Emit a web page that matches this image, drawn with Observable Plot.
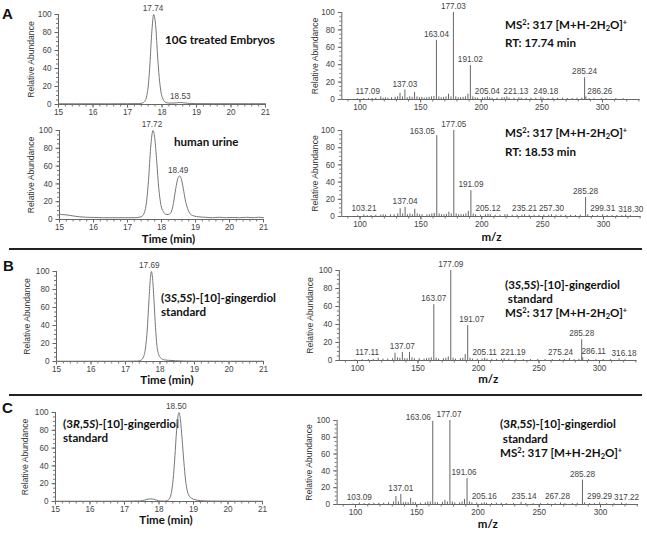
<!DOCTYPE html>
<html><head><meta charset="utf-8">
<script src="https://cdn.jsdelivr.net/npm/d3@7"></script>
<script src="https://cdn.jsdelivr.net/npm/@observablehq/plot@0.6"></script>
<style>
html,body{margin:0;padding:0;background:#fff}
#fig{position:relative;width:647px;height:536px;overflow:hidden;background:#fff}
#fig svg{position:absolute}
.ann{position:absolute;font-family:Lato,"Open Sans",sans-serif;font-weight:bold;font-size:11.6px;color:#111;white-space:nowrap;line-height:14px}
.ann .sp{font-size:7.5px;position:relative;top:-4px}
.ann .sb{font-size:7.5px;position:relative;top:2px}
.letter{position:absolute;font-family:"Liberation Sans",Arial,sans-serif;font-weight:bold;font-size:15px;color:#111;line-height:15px}
.sep{position:absolute;left:9px;width:633px;height:2px;background:#222}
</style>
</head><body>
<div id="fig">
  <div class="letter" style="left:2px;top:6px">A</div>
  <div class="letter" style="left:3px;top:258px">B</div>
  <div class="letter" style="left:2px;top:400px">C</div>
  <div class="sep" style="top:248px"></div>
  <div class="sep" style="top:394px"></div>
  <div class="ann" style="left:165px;top:33px">10G treated Embryos</div>
  <div class="ann" style="left:174px;top:135px">human urine</div>
  <div class="ann" style="left:161px;top:291px">(3<i>S</i>,5<i>S</i>)-[10]-gingerdiol<br>standard</div>
  <div class="ann" style="left:63px;top:417px">(3<i>R</i>,5<i>S</i>)-[10]-gingerdiol<br>standard</div>
  <div class="ann" style="left:505px;top:17px;line-height:16px">MS<span class="sp">2</span>: 317 [M+H-2H<span class="sb">2</span>O]<span class="sp">+</span><br>RT: 17.74 min</div>
  <div class="ann" style="left:505px;top:124px;line-height:17px">MS<span class="sp">2</span>: 317 [M+H-2H<span class="sb">2</span>O]<span class="sp">+</span><br>RT: 18.53 min</div>
  <div class="ann" style="left:505px;top:278px">(3<i>S</i>,5<i>S</i>)-[10]-gingerdiol<br>&nbsp;standard<br>MS<span class="sp">2</span>: 317 [M+H-2H<span class="sb">2</span>O]<span class="sp">+</span></div>
  <div class="ann" style="left:500px;top:417px;line-height:14.5px">(3<i>R</i>,5<i>S</i>)-[10]-gingerdiol<br>&nbsp;standard<br>MS<span class="sp">2</span>: 317 [M+H-2H<span class="sb">2</span>O]<span class="sp">+</span></div>
</div>
<script>
// ---------- DATA ----------
// Chromatograms: [time (min), relative abundance]
const embryoTrace = [[15,0.8],[15.5,0.8],[16,0.8],[16.5,0.8],[17,0.9],[17.3,1],[17.42,1.5],[17.5,3.5],[17.56,10],[17.61,24],[17.65,45],[17.7,78],[17.76,100],[17.82,86],[17.87,55],[17.92,30],[17.97,14],[18.03,6],[18.1,2.5],[18.2,1.6],[18.35,1.6],[18.5,2.2],[18.6,2],[18.75,1.3],[19,1],[19.5,0.9],[20,0.9],[20.5,0.9],[21,0.9]];
const urineTrace = [[15,6],[15.1,5.5],[15.25,5],[15.4,4],[15.6,3],[15.8,2.5],[16,2.3],[16.3,2],[16.6,2],[16.9,2],[17.2,2],[17.4,3],[17.5,8],[17.56,20],[17.62,45],[17.68,80],[17.75,100],[17.8,92],[17.86,65],[17.92,35],[17.98,17],[18.05,9],[18.12,6],[18.2,5.5],[18.28,8],[18.35,18],[18.42,35],[18.48,46],[18.53,49],[18.58,46],[18.64,35],[18.7,22],[18.77,12],[18.85,6],[18.95,4],[19.1,3],[19.3,2.5],[19.5,2],[19.7,2.5],[19.9,2],[20.1,2.3],[20.3,2],[20.5,2.5],[20.7,2],[20.85,2.5],[21,2]];
const ssStdTrace = [[15,0.3],[16,0.3],[17,0.3],[17.35,0.5],[17.45,1.5],[17.52,5],[17.58,15],[17.63,35],[17.68,68],[17.72,92],[17.75,100],[17.79,90],[17.83,65],[17.87,38],[17.91,18],[17.96,8],[18.02,4],[18.1,2],[18.25,1.3],[18.45,0.9],[18.7,0.5],[19,0.4],[20,0.3],[21,0.3]];
const rsStdTrace = [[15,0.3],[16,0.3],[17,0.4],[17.45,0.6],[17.58,1.5],[17.68,2.6],[17.76,3],[17.84,2.6],[17.93,1.5],[18.02,0.6],[18.15,0.5],[18.24,1],[18.3,3],[18.36,10],[18.41,25],[18.46,50],[18.51,80],[18.56,98],[18.58,100],[18.62,92],[18.67,70],[18.72,45],[18.77,24],[18.82,12],[18.88,6],[18.95,3.5],[19.05,2],[19.2,1],[19.5,0.5],[20,0.4],[21,0.3]];
// Chromatogram peak labels: [retention time, abundance]
const embryoPeakLabels = [[17.74,100],[18.53,2.2]];
const urinePeakLabels = [[17.72,100],[18.49,49]];
const ssStdPeakLabels = [[17.69,100]];
const rsStdPeakLabels = [[18.50,100]];

// MS2 spectra: [m/z, relative abundance]
const msEmbryo = [[98,0.8],[103,1],[107,1],[110,1.2],[113,1.5],[117.09,3],[119,1.5],[121,2],[123,1.5],[126,2],[129,2.5],[131,3],[133,7],[135,3],[137.03,11],[139,2],[141,3],[143,2.5],[145,8],[147,3],[149,2],[151,2.5],[153,1.5],[155,2],[157,2.5],[159,3],[161,3.5],[163.04,68],[165,3],[167,2],[169,2.5],[171,3],[173,6],[175,3],[177.03,100],[179,3],[181,2],[183,2],[185,2.5],[187,3],[189,6],[191.02,39],[193,3],[195,2],[197,1.5],[201,2],[203,2],[205.04,3],[207,2],[209,1.5],[213,1.5],[217,2],[219,2],[221.13,3],[223,1.5],[227,1.5],[231,2],[233,1.5],[237,1.5],[241,1.5],[245,1.5],[249.18,2.5],[251,1.5],[255,1.2],[259,1.5],[263,1.2],[267,1.5],[271,1.2],[275,1.2],[279,1.5],[283,1.5],[285.24,25],[286.26,3],[289,1],[293,1],[299,1.2],[303,1],[311,1],[317,1]];
const msUrine = [[98,0.8],[103.21,2],[106,1],[109,1.2],[113,1.5],[117,1.5],[119,2],[121,1.5],[125,2],[128,2],[131,3],[133,9],[135,3],[137.04,10.5],[139,2],[141,3],[143,2],[145,8.5],[147,3],[149,2],[151,2],[155,2],[157,2],[159,3],[161,3.5],[163.05,94],[165,3],[167,2],[169,2],[171,2.5],[173,5],[175,3],[177.05,100],[179,3],[181,2],[183,2],[185,2],[187,3],[189,6],[191.09,30],[193,3],[195,2],[199,1.5],[203,2],[205.12,2.5],[207,2],[211,1.5],[215,1.5],[219,2],[221,2],[225,1.5],[229,1.5],[233,1.5],[235.21,2],[239,1.5],[243,1.5],[247,1.5],[251,1.5],[255,1.5],[257.30,2],[261,1.5],[265,1.5],[269,1.5],[273,1.5],[277,1.2],[281,1.5],[285.28,22],[287,2],[291,1.2],[295,1],[299.31,2],[303,1.2],[307,1],[311,1.2],[315,1],[318.30,1.8],[322,1]];
const msSsStd = [[98,0.6],[104,0.8],[109,1],[113,1.2],[117.11,2.5],[121,1.5],[125,1.5],[129,2],[131,8],[133,3],[135,2.5],[137.07,9],[139,2],[141,2],[143,9],[145,3],[147,2],[151,2],[155,1.5],[157,2],[159,2.5],[161,3],[163.07,62],[165,2.5],[167,1.5],[171,2],[173,2.5],[175,4],[177.09,100],[179,2.5],[181,1.5],[185,2],[187,2.5],[189,6.5],[191.07,39],[193,2.5],[195,1.5],[199,1.5],[203,1.5],[205.11,2.5],[207,1.5],[211,1.2],[215,1.2],[219,1.5],[221.19,2],[225,1.2],[231,1.2],[237,1],[243,1],[249,1.2],[255,1],[261,1],[267,1],[271,1],[275.24,2],[279,1],[283,1.2],[285.28,23],[286.11,3],[291,1],[297,1],[303,1],[309,1],[316.18,1.8],[321,0.8]];
const msRsStd = [[98,0.6],[103.09,1.8],[107,1],[111,1.2],[115,1.5],[119,1.5],[123,1.5],[127,2],[131,3],[133,9.5],[135,3],[137.01,12],[139,2],[141,2.5],[143,2],[145,7],[147,2.5],[149,2],[153,1.5],[157,2],[159,3],[161,3],[163.06,99],[165,2.5],[167,2],[171,2.5],[173,5],[175,3],[177.07,100],[179,3],[181,2],[185,2],[187,3],[189,6],[191.06,31],[193,3],[195,2],[199,1.5],[203,1.5],[205.16,2],[207,1.5],[211,1.2],[215,1.5],[219,1.5],[223,1.2],[229,1.2],[235.14,2.5],[239,1.2],[245,1],[251,1],[257,1],[263,1],[267.28,2],[271,1],[277,1],[281,1.2],[285.28,29],[287,2],[291,1],[295,1],[299.29,2],[305,1],[311,1],[317.22,1.8],[321,0.8]];
// Labelled m/z values in each spectrum
const msEmbryoLabels = [117.09,137.03,163.04,177.03,191.02,205.04,221.13,249.18,285.24,286.26];
const msUrineLabels = [103.21,137.04,163.05,177.05,191.09,205.12,235.21,257.30,285.28,299.31,318.30];
const msSsStdLabels = [117.11,137.07,163.07,177.09,191.07,205.11,221.19,275.24,285.28,286.11,316.18];
const msRsStdLabels = [103.09,137.01,163.06,177.07,191.06,205.16,235.14,267.28,285.28,299.29,317.22];

// Axis ticks
const timeDomain = [15, 21];
const timeTicks = [15,16,17,18,19,20,21];
const mzDomain = [85, 331];
const mzTicks = [100,150,200,250,300];
const abundanceTicks = [0,20,40,60,80,100];

// ---------- DRAWING ----------
const fig = document.getElementById("fig");
const baseFont = '"Liberation Sans", Arial, sans-serif';
const numSize = 8.2;
const minorY = d3.range(0, 21).map(i => i * 5);
const minorT = d3.range(0, 31).map(i => 15 + i * 0.2);
const minorMz = d3.range(9, 34).map(i => i * 10);

function commonY() {
  return [
    Plot.axisY(minorY, {anchor: "left", tickSize: 2, tickFormat: () => "", label: null, stroke: "#777"}),
    Plot.axisY(abundanceTicks, {anchor: "left", tickSize: 3.5, tickPadding: 3.5, label: null, stroke: "#666", fill: "#444", fontSize: numSize})
  ];
}

function chromPanel(cfg) {
  const W = 320, mt = 18, mb = 36;
  const height = cfg.y0 - cfg.y100 + mt + mb;
  const svg = Plot.plot({
    width: W, height,
    marginLeft: cfg.x0, marginRight: W - cfg.x1, marginTop: mt, marginBottom: mb,
    x: {domain: timeDomain, axis: null},
    y: {domain: [0, 100], axis: null},
    style: {fontFamily: baseFont, fontSize: numSize + "px", color: "#444", background: "transparent", overflow: "visible"},
    marks: [
      ...commonY(),
      Plot.axisX(minorT, {anchor: "bottom", tickSize: 2.5, tickFormat: () => "", label: null, stroke: "#777"}),
      Plot.axisX(timeTicks, {anchor: "bottom", tickSize: 3.5, tickPadding: 1, label: null, stroke: "#666", fill: "#444", fontSize: numSize}),
      Plot.ruleX([timeDomain[0]], {stroke: "#666"}),
      Plot.ruleY([0], {stroke: "#666"}),
      Plot.line(cfg.trace, {x: d => d[0], y: d => d[1], stroke: "#777", strokeWidth: 1, curve: "monotone-x"}),
      Plot.text(cfg.labels, {x: d => d[0], y: d => d[1], text: d => d[0].toFixed(2), dy: -6, fill: "#444", fontSize: numSize}),
      Plot.text(["Relative Abundance"], {frameAnchor: "left", textAnchor: "middle", dx: cfg.yLabelX - cfg.x0, rotate: -90, fontSize: 8.6, fill: "#333"}),
      cfg.xlabel ? Plot.text([cfg.xlabel], {frameAnchor: "bottom", textAnchor: "middle", dy: cfg.xlabelDy, dx: 7, fontFamily: "Lato", fontWeight: "bold", fontSize: 11.5, fill: "#111"}) : null
    ]
  });
  svg.style.left = "0px";
  svg.style.top = (cfg.y100 - mt) + "px";
  fig.appendChild(svg);
}

function msPanel(cfg) {
  const L = 290, W = 357, mt = 18, mb = 36;
  const k = (cfg.px300 - cfg.px100) / 200;
  const xa = cfg.px100 - (100 - mzDomain[0]) * k;
  const xb = cfg.px100 + (mzDomain[1] - 100) * k;
  const height = cfg.y0 - cfg.y100 + mt + mb;
  const lab = cfg.labels.map(m => {
    const p = cfg.peaks.find(d => Math.abs(d[0] - m) < 1e-6);
    const key = m.toFixed(2);
    const n = cfg.nudge[key];
    return {mz: m, i: p ? p[1] : 2, text: key, end: n === "end", shift: typeof n === "number" ? n : 0};
  });
  const svg = Plot.plot({
    width: W, height,
    marginLeft: xa - L, marginRight: L + W - xb, marginTop: mt, marginBottom: mb,
    x: {domain: mzDomain, axis: null},
    y: {domain: [0, 100], axis: null},
    style: {fontFamily: baseFont, fontSize: numSize + "px", color: "#444", background: "transparent", overflow: "visible"},
    marks: [
      ...commonY(),
      Plot.axisX(minorMz, {anchor: "bottom", tickSize: 2.5, tickFormat: () => "", label: null, stroke: "#777"}),
      Plot.axisX(mzTicks, {anchor: "bottom", tickSize: 3.5, tickPadding: 1.5, label: null, stroke: "#666", fill: "#444", fontSize: numSize}),
      Plot.ruleX([mzDomain[0]], {stroke: "#666"}),
      Plot.ruleY([0], {stroke: "#666"}),
      Plot.ruleX(cfg.peaks, {x: d => d[0], y1: 0, y2: d => d[1], stroke: "#666", strokeWidth: 1}),
      Plot.text(lab.filter(d => !d.end), {x: d => d.mz + d.shift / k, y: "i", text: "text", dy: -6, fill: "#444", fontSize: numSize}),
      Plot.text(lab.filter(d => d.end), {x: "mz", y: "i", text: "text", dy: -4, dx: -2, textAnchor: "end", fill: "#444", fontSize: numSize}),
      Plot.text(["Relative Abundance"], {frameAnchor: "left", textAnchor: "middle", dx: cfg.yLabelX - xa, rotate: -90, fontSize: 8.6, fill: "#333"}),
      cfg.xlabel ? Plot.text([cfg.xlabel], {frameAnchor: "bottom", textAnchor: "middle", dy: cfg.xlabelDy, fontFamily: "Lato", fontWeight: "bold", fontSize: 11.5, fill: "#111"}) : null
    ]
  });
  svg.style.left = L + "px";
  svg.style.top = (cfg.y100 - mt) + "px";
  fig.appendChild(svg);
}

chromPanel({trace: embryoTrace, labels: embryoPeakLabels, x0: 58, x1: 265, y100: 14, y0: 104, yLabelX: 31});
chromPanel({trace: urineTrace, labels: urinePeakLabels, x0: 59, x1: 263, y100: 130, y0: 219, yLabelX: 31, xlabel: "Time (min)", xlabelDy: 23});
chromPanel({trace: ssStdTrace, labels: ssStdPeakLabels, x0: 56, x1: 263, y100: 271, y0: 361, yLabelX: 27, xlabel: "Time (min)", xlabelDy: 22.5});
chromPanel({trace: rsStdTrace, labels: rsStdPeakLabels, x0: 55, x1: 262, y100: 412, y0: 501, yLabelX: 25, xlabel: "Time (min)", xlabelDy: 22});

msPanel({peaks: msEmbryo, labels: msEmbryoLabels, px100: 359.5, px300: 602, y100: 12, y0: 99, yLabelX: 315,
  nudge: {"117.09": -13, "221.13": 9, "249.18": 5, "286.26": 14}});
msPanel({peaks: msUrine, labels: msUrineLabels, px100: 359.5, px300: 603, y100: 130, y0: 216, yLabelX: 315, xlabel: "m/z", xlabelDy: 24,
  nudge: {"163.05": "end", "318.30": 5}});
msPanel({peaks: msSsStd, labels: msSsStdLabels, px100: 357, px300: 599, y100: 270, y0: 360, yLabelX: 310, xlabel: "m/z", xlabelDy: 22.5,
  nudge: {"117.11": -11, "191.07": 4, "221.19": 9, "275.24": -9, "286.11": 11, "316.18": 5}});
msPanel({peaks: msRsStd, labels: msRsStdLabels, px100: 355, px300: 600, y100: 420, y0: 504, yLabelX: 309, xlabel: "m/z", xlabelDy: 23,
  nudge: {"163.06": "end", "177.07": -1, "191.06": -3, "235.14": 3, "267.28": -3, "317.22": 5}});
</script>
</body></html>
